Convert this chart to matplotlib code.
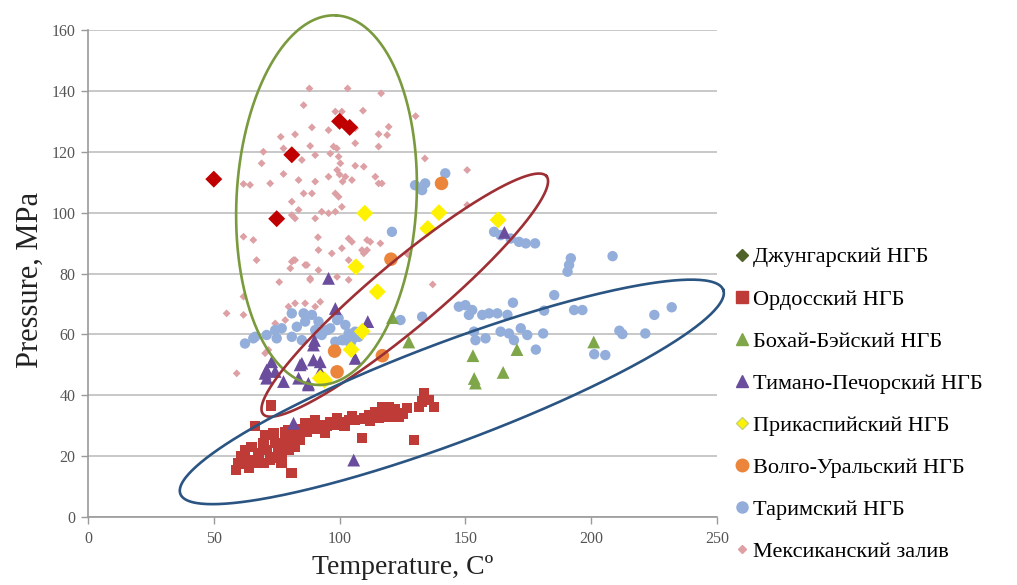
import numpy as np
import matplotlib
matplotlib.use("Agg")
import matplotlib.pyplot as plt
from matplotlib.lines import Line2D

# ---------------- data ----------------
series_names = ["Джунгарский НГБ", "Ордосский НГБ", "Бохай-Бэйский НГБ",
                "Тимано-Печорский НГБ", "Прикаспийский НГБ", "Волго-Уральский НГБ",
                "Таримский НГБ", "Мексиканский залив"]

djungar_T = [50, 75, 81, 100, 104]
djungar_P = [111, 98, 119, 130, 128]

ordos_T = [72.8, 66.4, 58.7, 59.8, 62.4, 65, 67.7, 69.7, 70.4, 73.7, 74.4, 75.7, 76.9, 78.4,
           79.7, 80.9, 82.3, 84.3, 81.7, 78.4, 86.3, 88.9, 90.3, 92.9, 94.3, 96.3, 98.3, 100.9,
           103.6, 106.2, 108.8, 109.6, 111.6, 114.2, 115.5, 116.8, 118.8, 120.8, 119.5, 123.5,
           126.8, 129.5, 131.5, 133.5, 135.5, 137.5, 132.8, 63.7, 67, 71, 72.4, 76.4, 69.7, 82.3,
           79.7, 84.3, 61, 64, 68, 74, 77, 85, 87, 91, 95, 99, 102, 105, 112, 117, 122, 121, 125]
ordos_P = [36.6, 30, 15.4, 17.6, 22, 23, 21, 17.7, 27, 27.6, 24.3, 21, 17.7, 25.3,
           22, 14.4, 26.4, 27.6, 28.6, 28, 30.9, 29.7, 31.9, 30.2, 27.6, 31.3, 30.2, 31.3,
           31.9, 31.9, 25.9, 32.4, 33.5, 34.6, 32.5, 36.2, 34.2, 34.6, 36.2, 33,
           35.8, 25.3, 36.2, 40.6, 38.4, 36.2, 37.9, 18.7, 17.7, 22, 18.7, 22.6, 24.3, 23.1,
           28.6, 25.3, 20, 16, 19, 19.5, 20, 29, 28, 29, 30, 32.5, 30, 33, 31.5, 33, 35.5, 33, 34]

bohai_T = [121, 127.5, 153, 153.5, 154, 165, 170.5, 201]
bohai_P = [65.5, 57.5, 53, 45.5, 44, 47.5, 55, 57.5]

timan_T = [95.6, 98.3, 111.2, 89.6, 90, 106.2, 92.3, 85, 73, 71, 74.4, 71, 77.7, 83.7, 87.6,
           92.3, 105.6, 81.7, 165.5, 89.6, 84.3, 70.4, 87.6]
timan_P = [78.4, 68.5, 64.2, 56.5, 58, 52.1, 51, 50.5, 51, 48.3, 47.8, 45.6, 44.5, 45.6, 43.9,
           47.8, 18.7, 30.8, 93.5, 51.6, 50, 47.2, 43.4]

prik_T = [110, 139.5, 163, 135, 106.5, 115, 109, 104.6, 92.3, 94]
prik_P = [99.8, 100, 97.6, 94.8, 82.2, 74, 61, 55, 45.6, 45]

volgo_T = [140.5, 120.4, 98, 117, 99]
volgo_P = [109.6, 84.7, 54.5, 53, 47.7]

tarim_T = [142, 161.4, 164, 168, 171.3, 174, 177.7, 191.9, 191.2, 190.6, 208.5, 185.3, 168.9,
           181.3, 193.2, 196.5, 225.1, 232, 147.4, 150, 152.7, 151.4, 156.7, 159.4, 162.7, 166.7,
           153.4, 154, 158, 164, 167.3, 169.3, 172, 174.6, 180.9, 178, 211.2, 212.4, 221.5,
           201.2, 205.6, 130, 134, 132.8, 120.8, 62.4, 66.4, 71, 74.4, 75, 81, 85.7, 89, 83, 86.3,
           90.3, 93.6, 96.3, 99.6, 102.3, 103.6, 106.2, 104.9, 100.9, 98.3, 92.9, 81, 77, 124.2,
           132.8, 85, 91.6, 65.7, 91, 95, 99, 101.6, 104.3, 107.6]
tarim_P = [112.9, 93.7, 92.6, 91.5, 90.4, 89.9, 89.9, 85, 82.8, 80.6, 85.7, 72.9, 70.4,
           67.8, 68, 68, 66.4, 68.9, 69.1, 69.6, 68, 66.4, 66.4, 66.9, 66.9, 66.4,
           60.9, 58.1, 58.7, 60.9, 60.3, 58.1, 62, 59.8, 60.3, 55, 61.2, 60.1, 60.3,
           53.5, 53.2, 109, 109.6, 107.4, 93.7, 57, 59.2, 59.8, 61.4, 58.7, 66.9, 66.9, 66.4, 62.5, 64.2,
           61.4, 60.9, 62, 65.3, 63.1, 60.3, 60.9, 58.1, 58.1, 57.6, 59.8, 59.2, 62, 64.7,
           65.8, 58.1, 64.2, 58.7, 60.3, 61.4, 64.7, 58.1, 57, 59.2]

mex_T = [88, 103.2, 116.5, 85.7, 130.2, 98.3, 100.9, 109.3, 89, 104.3, 106.2, 102.3, 119.5,
         76.6, 82.3, 95.6, 115.5, 118.9, 88.3, 97.6, 98.9, 106.2, 115.5, 69.7, 77.7, 85, 90.3,
         96.3, 99.6, 100.3, 106.2, 109.6, 69, 99, 100, 95.6, 102.3, 77.7, 72.4, 61.8, 64.4, 83.7,
         90.3, 101.2, 104.9, 114.2, 115.5, 116.8, 85.7, 89, 98.3, 99.6, 81, 83.7, 92.9, 95.6,
         98.3, 100.9, 81, 82.3, 90.3, 61.8, 65.7, 91.4, 103.6, 104.9, 110.9, 91.6, 100.9, 108.9,
         67, 81.7, 86.3, 103.6, 127.2, 76, 88.3, 91.6, 99, 137, 61.8, 55.1, 61.8, 79.7, 82.3,
         86.3, 90.3, 92.3, 74.4, 78.4, 59.1, 70.4, 71.7, 96.9, 109.6, 110.9, 112.2, 116.2, 126.8,
         81, 82.3, 80.4, 87, 88.3, 103.6, 133.9, 150.7, 150.7]
mex_P = [140.8, 140.8, 139.2, 135.3, 131.7, 133.2, 133.2, 133.5, 128, 128.4, 127.7, 129.3, 128.2,
         124.9, 125.7, 127.1, 125.8, 125.5, 121.9, 121.7, 121.1, 122.8, 121.7, 120, 121.1, 117.3, 118.9,
         119.4, 118.4, 116.2, 115.4, 115.1, 116.2, 114, 112.5, 111.8, 111.8, 112.7, 109.6, 109.4, 109.1, 110.7,
         110.2, 110.2, 110.7, 111.8, 109.6, 109.6, 106.3, 106.3, 106.3, 105.2, 103.6, 100.9, 100.3, 99.8,
         100.3, 101.9, 99.2, 98.1, 98.1, 92.1, 91, 91.9, 91.5, 90.4, 91, 87.7, 88.3, 87.7,
         84.4, 84.4, 82.8, 84.4, 86.3, 77.2, 78.4, 81.1, 78.9, 76.4, 72.4, 66.9, 66.4, 69.1, 70.2,
         70.2, 69.1, 70.7, 63.6, 64.7, 47.2, 53.8, 54.9, 86.6, 86.6, 87.7, 90.4, 89.9, 86.6,
         83.9, 84.4, 81.7, 82.8, 77.9, 77.9, 117.8, 114, 102.5]

x_ticks = [0, 50, 100, 150, 200, 250]
y_ticks = [0, 20, 40, 60, 80, 100, 120, 140, 160]

# ---------------- style ----------------
serif = "Liberation Serif"
plt.rcParams["font.family"] = [serif, "DejaVu Serif"]

fig = plt.figure(figsize=(10.17, 5.85), dpi=100)
ax = fig.add_axes([88 / 1017, 68 / 585, 629 / 1017, 487 / 585])

c_djungar = "#C00000"
c_djungar_leg = "#4F6228"
c_ordos = "#BE3B37"
c_bohai = "#7FA74A"
c_timan = "#6B4D9E"
c_prik = "#FFF200"
c_volgo = "#EB853C"
c_tarim = "#93AEDA"
c_mex = "#DDA0A4"

ax.scatter(mex_T, mex_P, marker="D", s=16, color=c_mex, edgecolors="none", zorder=2)
ax.scatter(tarim_T, tarim_P, marker="o", s=56, color=c_tarim, edgecolors="none", zorder=3)
ax.scatter(ordos_T, ordos_P, marker="s", s=55, color=c_ordos, edgecolors="none", zorder=3)
ax.scatter(bohai_T, bohai_P, marker="^", s=85, color=c_bohai, edgecolors="none", zorder=4)
ax.scatter(timan_T, timan_P, marker="^", s=85, color=c_timan, edgecolors="none", zorder=4)
ax.scatter(volgo_T, volgo_P, marker="o", s=95, color=c_volgo, edgecolors="none", zorder=4)
ax.scatter(prik_T, prik_P, marker="D", s=75, color=c_prik, edgecolors="none", zorder=5)
ax.scatter(djungar_T, djungar_P, marker="D", s=75, color=c_djungar, edgecolors="none", zorder=5)

ax.set_xlim(0, 250)
ax.set_ylim(0, 160)
ax.set_xticks(x_ticks)
ax.set_yticks(y_ticks)
ax.grid(axis="y", color="#C4C4C4", linewidth=1.3)
ax.set_axisbelow(True)
for side in ["top", "right"]:
    ax.spines[side].set_visible(False)
for side in ["left", "bottom"]:
    ax.spines[side].set_color("#9A9A9A")
    ax.spines[side].set_linewidth(1.2)
ax.tick_params(axis="both", colors="#9A9A9A", labelcolor="#555555", labelsize=11.5,
               length=5, width=1)
ax.tick_params(axis="x", pad=5)
ax.tick_params(axis="y", pad=4)

ax.set_xlabel("Temperature, Cº", fontsize=20, color="#222222", labelpad=6)
ax.set_ylabel("Pressure, MPa", fontsize=22, color="#222222")
ax.yaxis.set_label_coords(-0.068, 0.487)

# ---------------- ellipses (annotation outlines, screen-pixel geometry) ----------------
pos = ax.get_position()
sx = pos.width * 1017 / 250.0
sy = pos.height * 585 / 160.0


def draw_ellipse(cT, cP, a_px, b_px, ang_deg, color):
    t = np.linspace(0, 2 * np.pi, 400)
    th = np.deg2rad(ang_deg)
    dx = a_px * np.cos(t) * np.cos(th) - b_px * np.sin(t) * np.sin(th)
    dy = a_px * np.cos(t) * np.sin(th) + b_px * np.sin(t) * np.cos(th)
    ax.plot(cT + dx / sx, cP + dy / sy, color=color, lw=1.9, clip_on=False, zorder=6)


draw_ellipse(94.8, 104.1, 185, 90, 87, "#7A9A3E")
draw_ellipse(125.9, 72.9, 185, 33, 40, "#9E2F35")
draw_ellipse(144.6, 41.1, 290, 50, 20.6, "#2A5482")

# ---------------- legend ----------------
handles = [
    Line2D([], [], ls="none", marker="D", ms=6.5, color=c_djungar_leg),
    Line2D([], [], ls="none", marker="s", ms=8, color=c_ordos),
    Line2D([], [], ls="none", marker="^", ms=8.5, color=c_bohai),
    Line2D([], [], ls="none", marker="^", ms=8.5, color=c_timan),
    Line2D([], [], ls="none", marker="D", ms=6.5, color=c_prik, mec="#C8D27A"),
    Line2D([], [], ls="none", marker="o", ms=9, color=c_volgo),
    Line2D([], [], ls="none", marker="o", ms=8, color=c_tarim),
    Line2D([], [], ls="none", marker="D", ms=4, color=c_mex),
]
fig.legend(handles, series_names, loc="upper left", bbox_to_anchor=(722 / 1017, 1 - 238 / 585),
           frameon=False, fontsize=16, labelspacing=0.97, handletextpad=0.0,
           handlelength=1.0, borderaxespad=0)

fig.savefig("out.png", dpi=100)
